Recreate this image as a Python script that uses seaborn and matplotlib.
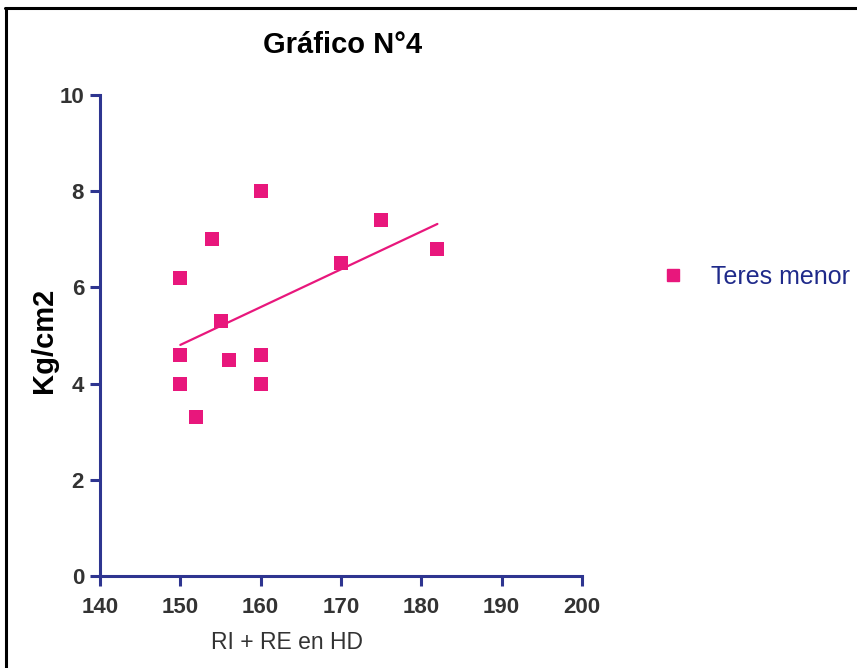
import matplotlib
matplotlib.use("Agg")
import matplotlib.pyplot as plt
import seaborn as sns
import pandas as pd
from matplotlib.lines import Line2D

# Data
x_vals = [150, 150, 150, 152, 154, 155, 156, 160, 160, 160, 170, 175, 182]
y_vals = [6.2, 4.6, 4.0, 3.3, 7.0, 5.3, 4.5, 8.0, 4.6, 4.0, 6.5, 7.4, 6.8]
series_name = "Teres menor"
title = "Gráfico N°4"
x_label = "RI + RE en HD"
y_label = "Kg/cm2"
x_ticks = [140, 150, 160, 170, 180, 190, 200]
y_ticks = [0, 2, 4, 6, 8, 10]

df = pd.DataFrame({"x": x_vals, "y": y_vals})

sns.set_style("ticks")
plt.rcParams["font.family"] = ["Liberation Sans", "DejaVu Sans"]

pink = "#e8177c"
navy = "#2e3590"

W, H = 857, 668
fig = plt.figure(figsize=(W / 100, H / 100), dpi=100)
ax_l, ax_b, ax_w, ax_h = 100, 576, 482, 481
ax = fig.add_axes([ax_l / W, (H - ax_b) / H, ax_w / W, ax_h / H])

sns.regplot(data=df, x="x", y="y", ax=ax, ci=None, truncate=True,
            marker="s", color=pink,
            scatter_kws={"s": 100, "alpha": 1, "linewidths": 0, "zorder": 3},
            line_kws={"lw": 1.6, "color": pink})

ax.set_xlim(140, 200)
ax.set_ylim(0, 10)
ax.set_xticks(x_ticks)
ax.set_yticks(y_ticks)
for s in ["top", "right"]:
    ax.spines[s].set_visible(False)
for s in ["left", "bottom"]:
    ax.spines[s].set_color(navy)
    ax.spines[s].set_linewidth(2.2)
    ax.spines[s].set_capstyle("projecting")
ax.tick_params(axis="both", colors=navy, width=2.2, length=7, direction="out",
               labelsize=16, labelcolor="#333333")
ax.tick_params(axis="x", pad=8)
ax.tick_params(axis="y", pad=4.5)
for lab in ax.get_xticklabels() + ax.get_yticklabels():
    lab.set_fontweight("bold")

ax.set_xlabel(x_label, fontsize=16.5, color="#333333", va="baseline")
ax.xaxis.set_label_coords((287 - ax_l) / ax_w, (ax_b - 649) / ax_h)
ax.set_ylabel(y_label, fontsize=21, fontweight="bold", color="black", va="baseline")
ax.yaxis.set_label_coords((51.7 - ax_l) / ax_w, (ax_b - 340) / ax_h)
ax.set_title(title, fontsize=21, fontweight="bold", color="black",
             x=(342.5 - ax_l) / ax_w, y=(ax_b - 53) / ax_h, pad=0, va="baseline")

handle = Line2D([], [], marker="s", linestyle="none", color=pink, markersize=9)
fs = 18
px = fs * 100 / 72
handle_left = 672.7 - px  # handlelength 2 -> marker centred
leg = fig.legend([handle], [series_name], loc="center left",
                 bbox_to_anchor=(handle_left / W, 1 - 277 / H), frameon=False,
                 fontsize=fs, handlelength=2.0,
                 handletextpad=(711 - (handle_left + 2 * px)) / px,
                 borderpad=0, borderaxespad=0)
for t in leg.get_texts():
    t.set_color("#1f2a8a")

# frame lines (top and left) around the figure
fig.add_artist(Line2D([5 / W, 1], [1 - 8 / H, 1 - 8 / H], color="black", lw=2.2,
                      transform=fig.transFigure))
fig.add_artist(Line2D([6 / W, 6 / W], [0, 1 - 8 / H], color="black", lw=2.2,
                      transform=fig.transFigure))

fig.savefig("out.png", dpi=100, facecolor="white")
